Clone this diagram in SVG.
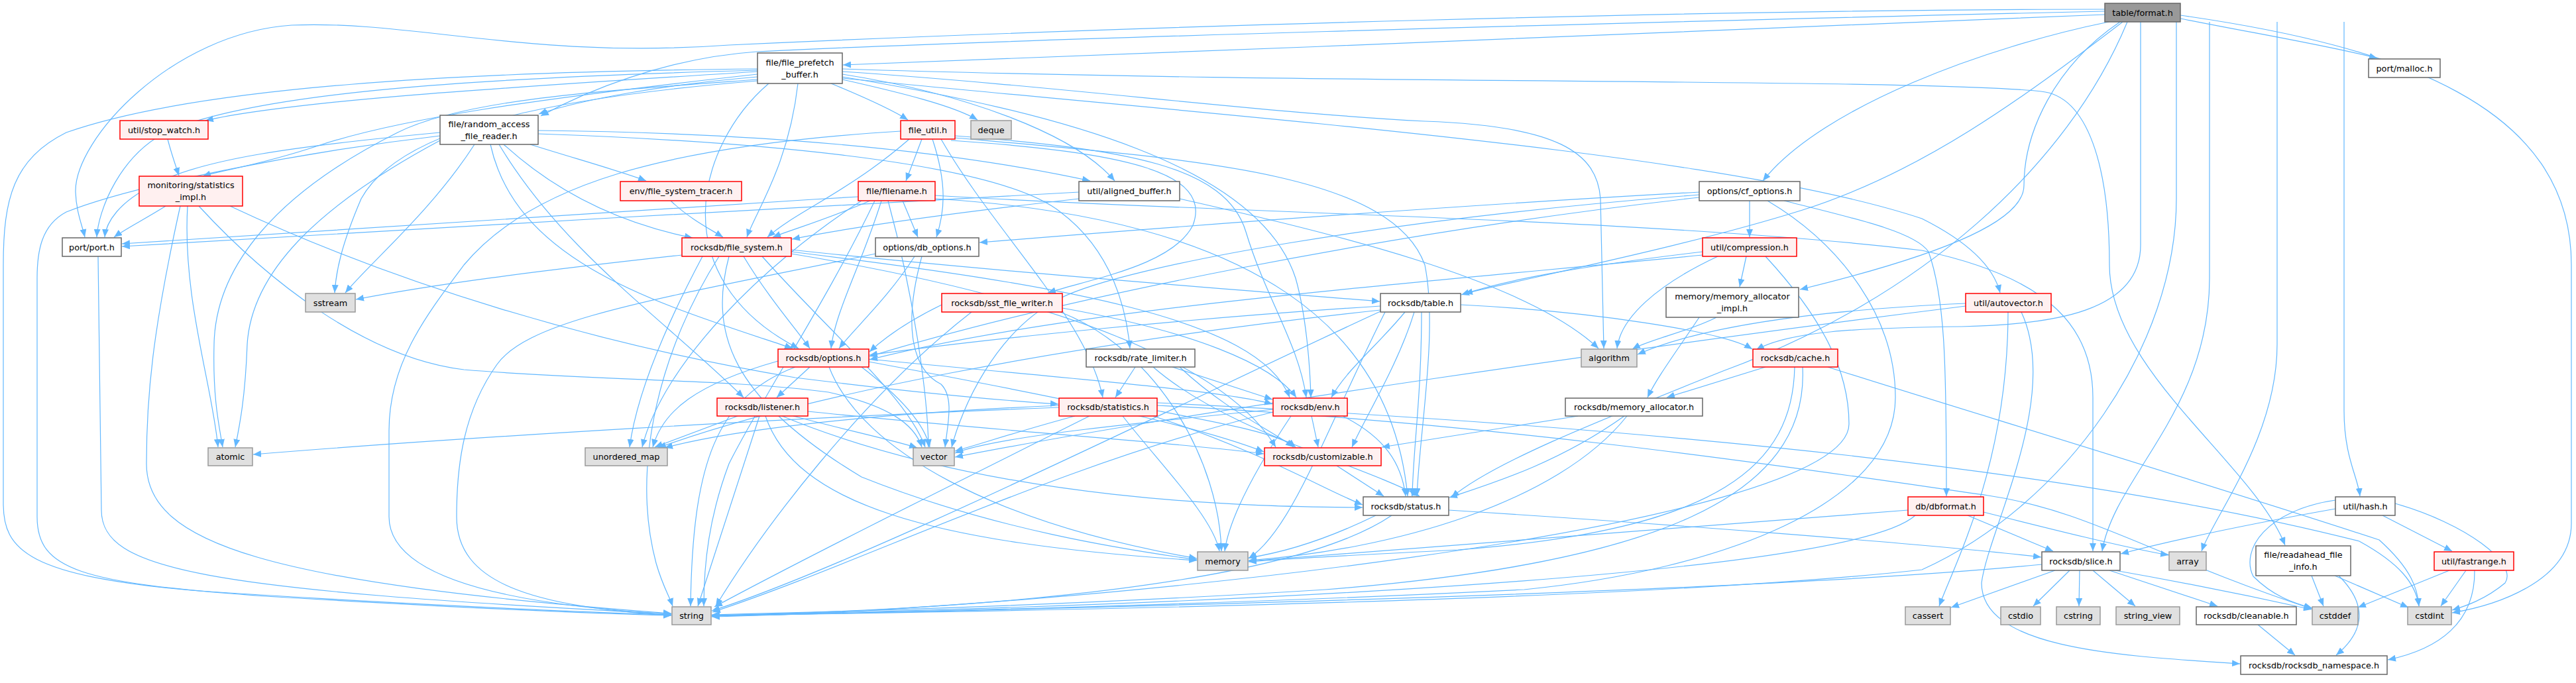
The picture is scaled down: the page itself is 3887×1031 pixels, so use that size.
<svg xmlns="http://www.w3.org/2000/svg" width="3887" height="1031" viewBox="0 0 3887 1031">
<style>
text{font-family:"DejaVu Sans","Liberation Sans",sans-serif;font-size:12.8px;text-anchor:middle;fill:#000}
.w{fill:#fff;stroke:#666;stroke-width:1.5}
.r{fill:#fff0f0;stroke:#f00;stroke-width:1.5}
.g{fill:#e0e0e0;stroke:#999;stroke-width:1.5}
.k{fill:#999;stroke:#666;stroke-width:1.5}
#edges path{fill:none;stroke:#63b8ff;stroke-width:1.2;marker-end:url(#ah)}
</style>
<defs>
<marker id="ah" viewBox="0 0 12 10" refX="12" refY="5" markerWidth="12" markerHeight="10" orient="auto" markerUnits="userSpaceOnUse"><path d="M0,0L12,5L0,10z" fill="#63b8ff"/></marker>
</defs>
<rect width="3887" height="1031" fill="#fff"/>
<g id="edges">
<path d="M3176,22 C2600,45 1900,75 1272,98"/>
<path d="M3176,14 C2600,14 1700,40 1100,68 C800,90 620,30 440,38 C260,50 112,210 114,290 C115,320 124,340 128,358"/>
<path d="M3176,17 C2400,35 1500,60 1142,78 C1000,88 880,140 816,175"/>
<path d="M3182,33 C3000,70 2750,160 2660,273"/>
<path d="M3199,33 C3100,100 3054,200 3054,280 C3054,330 2950,380 2716,437"/>
<path d="M3203,33 C3050,150 2900,260 2720,317 C2550,370 2350,410 2210,443"/>
<path d="M3230,33 L3230,370 C3230,470 3100,490 2960,493 C2800,495 2700,500 2650,528"/>
<path d="M3210,33 C3120,250 2900,450 2600,560 C2400,640 2250,700 2190,751"/>
<path d="M3284,33 L3284,300 C3284,520 3120,760 2900,860 C2500,905 1600,922 1074,929"/>
<path d="M3334,33 L3334,420 C3334,620 3190,720 3172,832"/>
<path d="M3436,33 L3436,520 C3436,660 3340,780 3322,832"/>
<path d="M3537,33 L3537,620 C3537,690 3558,720 3561,749"/>
<path d="M3290,23 C3620,70 3880,160 3880,400 L3880,790 C3880,880 3760,915 3700,925"/>
<path d="M3290,28 C3400,50 3520,70 3587,88"/>
<path d="M1254,126 C1300,145 1345,165 1370,181"/>
<path d="M1271,120 C1360,140 1440,160 1475,181"/>
<path d="M1271,112 C1450,140 1620,200 1682,273"/>
<path d="M1204,126 C1190,250 1140,320 1127,358"/>
<path d="M1160,126 C1050,220 1000,420 1205,526"/>
<path d="M1271,108 C1600,130 1900,170 2150,183 C2350,190 2410,230 2415,300 L2420,526"/>
<path d="M1271,116 C1600,170 1900,250 1955,420 C1972,480 1977,560 1978,600"/>
<path d="M1271,118 C1900,180 2600,230 2900,330 C2980,370 3010,410 3018,442"/>
<path d="M1271,104 C2000,128 2900,118 3080,138 C3150,145 3183,250 3183,400 C3183,560 3400,700 3448,823"/>
<path d="M1143,108 C800,130 450,150 310,182"/>
<path d="M1143,112 C800,150 600,180 480,220 C390,250 330,258 306,266"/>
<path d="M1143,106 C700,118 400,140 260,195 C180,230 148,320 146,358"/>
<path d="M1143,104 C700,108 300,130 100,200 C20,240 5,300 5,400 L5,760 C5,830 40,870 300,892 C600,912 900,925 1013,928"/>
<path d="M1143,120 C900,138 700,150 600,200 C420,290 325,400 323,520 C321,600 330,640 336,675"/>
<path d="M1143,122 C800,150 600,200 545,300 C515,370 507,410 505,442"/>
<path d="M1143,116 C1000,128 880,150 813,172"/>
<path d="M800,218 C870,240 935,258 975,273"/>
<path d="M716,218 C650,320 560,395 521,442"/>
<path d="M664,212 C500,300 380,400 373,520 C370,600 362,640 355,675"/>
<path d="M664,200 C450,220 300,240 230,280 C180,305 160,335 158,358"/>
<path d="M664,205 C450,230 200,280 100,320 C62,340 56,380 56,420 L56,780 C56,860 120,880 400,900 C700,918 900,926 1013,929"/>
<path d="M760,218 C850,300 950,340 1045,359"/>
<path d="M753,218 C850,380 1000,480 1122,600"/>
<path d="M740,218 C780,400 1000,460 1196,526"/>
<path d="M812,202 C1100,212 1500,240 1600,320 C1680,380 1700,470 1705,526"/>
<path d="M812,197 C1100,200 1400,220 1645,273"/>
<path d="M253,210 C258,230 265,250 270,265"/>
<path d="M250,311 C220,330 190,345 172,358"/>
<path d="M283,311 C275,450 320,580 329,675"/>
<path d="M272,311 C230,500 221,600 221,700 C221,820 400,880 1013,926"/>
<path d="M300,311 C400,420 550,540 700,558 C900,575 1100,572 1250,592 C1340,612 1380,640 1391,675"/>
<path d="M347,311 C600,430 900,520 1200,570 C1400,595 1520,605 1597,610"/>
<path d="M148,387 C150,600 153,700 153,770 C153,860 300,890 1013,927"/>
<path d="M1391,210 L1367,273"/>
<path d="M1407,210 C1430,280 1425,320 1413,358"/>
<path d="M1372,210 C1280,290 1200,320 1158,358"/>
<path d="M1435,212 C1700,230 1830,260 1800,340 C1770,400 1650,420 1581,442"/>
<path d="M1441,205 C1700,225 1850,250 1880,350 C1910,450 1960,520 1971,600"/>
<path d="M1441,208 C1800,240 2100,260 2150,400 C2170,500 2142,650 2138,749"/>
<path d="M1420,210 C1500,350 1640,480 1664,600"/>
<path d="M1359,198 C1000,220 800,280 700,400 C640,480 587,550 587,650 L587,780 C587,880 800,915 1013,927"/>
<path d="M1362,303 L1385,358"/>
<path d="M1295,297 C900,320 500,345 184,368"/>
<path d="M1313,303 C1250,330 1200,345 1166,358"/>
<path d="M1330,303 C1300,400 1260,470 1254,526"/>
<path d="M1411,295 C1800,320 2500,330 2900,378 C3100,420 3158,500 3158,600 C3158,720 3158,800 3158,832"/>
<path d="M1411,300 C1900,330 2100,500 2124,749"/>
<path d="M1320,303 C1250,450 1150,600 1100,700 C1070,780 1062,850 1062,915"/>
<path d="M1300,303 C1150,400 1000,550 969,675"/>
<path d="M1340,303 C1380,450 1400,600 1401,675"/>
<path d="M1380,387 C1340,450 1290,495 1266,526"/>
<path d="M1321,383 C1000,450 800,480 750,550 C700,620 689,700 689,780 C689,880 800,915 1013,929"/>
<path d="M1391,387 C1360,500 1380,560 1420,580 C1440,600 1430,640 1426,675"/>
<path d="M2640,303 L2640,358"/>
<path d="M2692,303 C2800,330 2890,350 2910,380 C2935,450 2937,550 2937,749"/>
<path d="M2564,290 C2200,310 1800,340 1478,366"/>
<path d="M2564,298 C2100,350 1600,450 1312,538"/>
<path d="M2564,294 C2100,330 1700,400 1600,450 C1500,500 1450,620 1436,675"/>
<path d="M2667,303 C2780,370 2860,480 2860,600 C2860,760 2600,860 2300,890 C1800,915 1300,925 1074,930"/>
<path d="M2635,387 L2625,433"/>
<path d="M2569,380 C2400,400 2280,420 2205,445"/>
<path d="M2569,385 C2000,440 1600,470 1312,543"/>
<path d="M2592,387 C2500,430 2445,480 2440,526"/>
<path d="M2664,387 C2750,480 2790,560 2790,640 C2790,800 1600,920 1074,931"/>
<path d="M2564,479 C2530,530 2500,570 2486,600"/>
<path d="M2590,479 C2550,500 2490,512 2463,527"/>
<path d="M1029,385 C800,410 650,430 537,452"/>
<path d="M1122,387 C1160,450 1200,495 1222,526"/>
<path d="M1194,380 C1600,430 1900,480 1946,600"/>
<path d="M1194,377 C1500,410 1900,440 2082,455"/>
<path d="M1194,383 C1600,450 1850,550 1925,675"/>
<path d="M1100,387 C1070,500 1100,600 1300,720 C1500,800 1700,830 1806,845"/>
<path d="M1085,387 C1000,520 950,700 990,850 C1000,885 1010,900 1015,915"/>
<path d="M1060,387 C1000,500 960,600 950,675"/>
<path d="M1150,387 C1250,500 1370,600 1396,675"/>
<path d="M1012,303 C1040,330 1070,345 1091,358"/>
<path d="M1628,290 C1200,310 600,350 184,372"/>
<path d="M1628,300 C1450,320 1300,340 1195,361"/>
<path d="M1780,300 C2000,350 2300,420 2412,526"/>
<path d="M1603,465 C1800,500 1920,550 1956,600"/>
<path d="M1421,460 C1380,480 1340,505 1312,531"/>
<path d="M1600,471 C1750,530 1840,700 1843,832"/>
<path d="M1466,471 C1300,600 1150,800 1080,915"/>
<path d="M2204,460 C2400,470 2600,500 2644,527"/>
<path d="M2134,471 C2110,550 2060,630 2040,675"/>
<path d="M2120,471 C2080,520 2030,560 2009,600"/>
<path d="M2145,471 C2145,600 2132,680 2131,749"/>
<path d="M2083,462 C1800,480 1500,510 1312,536"/>
<path d="M2090,471 C2000,650 1950,800 1884,843"/>
<path d="M2083,470 C1800,600 1300,850 1074,922"/>
<path d="M2083,468 C1600,520 1200,600 993,676"/>
<path d="M2966,458 C2700,470 2550,500 2471,535"/>
<path d="M3030,471 C3030,700 2950,850 2926,915"/>
<path d="M2966,462 C2500,520 1800,620 1441,690"/>
<path d="M3050,471 C3110,600 3000,800 2990,880 C2990,980 3200,990 3380,1002"/>
<path d="M1222,554 L1172,600"/>
<path d="M1311,542 C1600,570 1850,590 1920,610"/>
<path d="M1311,546 C1600,600 1800,640 1907,682"/>
<path d="M1251,554 C1300,680 1500,790 1806,843"/>
<path d="M1200,554 C1080,600 1045,700 1042,915"/>
<path d="M1174,545 C1050,580 1000,620 985,675"/>
<path d="M1300,554 C1360,600 1395,640 1403,675"/>
<path d="M1713,554 L1683,600"/>
<path d="M1769,554 L1920,603"/>
<path d="M1740,554 C1850,650 2050,700 2142,749"/>
<path d="M1780,554 C1850,620 1920,650 1952,675"/>
<path d="M1113,628 L988,675"/>
<path d="M1197,628 C1280,650 1350,665 1384,676"/>
<path d="M1146,628 L1053,915"/>
<path d="M1155,628 C1200,760 1400,820 1806,846"/>
<path d="M1219,621 C1500,650 1800,670 1907,685"/>
<path d="M1180,628 C1500,760 1900,765 2056,766"/>
<path d="M1746,620 C1850,640 1930,655 1955,675"/>
<path d="M1740,628 C1900,680 2000,740 2056,762"/>
<path d="M1694,628 C1750,700 1830,780 1840,832"/>
<path d="M1644,628 C1400,750 1200,850 1078,916"/>
<path d="M1622,628 C1540,650 1480,670 1441,681"/>
<path d="M1598,615 C1200,630 700,660 382,686"/>
<path d="M1598,612 C1300,625 1100,650 1003,676"/>
<path d="M1746,612 C2300,640 2800,720 3000,748 C3150,770 3250,840 3488,919"/>
<path d="M1746,608 C2400,640 3100,700 3560,817 C3620,850 3645,880 3650,915"/>
<path d="M1979,628 L1989,675"/>
<path d="M2026,628 C2090,660 2115,700 2121,749"/>
<path d="M1948,628 C1900,700 1855,780 1848,832"/>
<path d="M1921,622 C1600,700 1300,850 1075,924"/>
<path d="M1921,618 C1700,640 1500,660 1441,684"/>
<path d="M2017,703 L2088,749"/>
<path d="M2381,628 L2085,675"/>
<path d="M2451,628 C2350,700 2250,730 2187,751"/>
<path d="M2455,628 C2350,760 2100,830 1884,846"/>
<path d="M2664,554 L2515,600"/>
<path d="M2758,554 C2900,600 3300,720 3590,815 C3640,860 3648,890 3650,915"/>
<path d="M2708,554 C2705,700 2600,800 2200,830 C2000,840 1920,845 1884,848"/>
<path d="M2720,554 C2730,750 2500,850 2000,890 C1600,915 1200,925 1074,928"/>
<path d="M2186,770 C2500,790 2900,820 3080,841"/>
<path d="M2076,778 C1990,820 1930,835 1884,842"/>
<path d="M2100,778 C1950,880 1500,920 1074,929"/>
<path d="M2969,778 L3098,832"/>
<path d="M2993,773 C3100,800 3200,825 3272,838"/>
<path d="M2879,770 C2500,800 2100,830 1884,847"/>
<path d="M2890,778 C2800,860 2000,910 1074,929"/>
<path d="M3524,768 C3400,790 3300,810 3200,836"/>
<path d="M3595,778 L3700,832"/>
<path d="M3524,755 C3420,770 3380,830 3400,870 C3430,900 3460,910 3489,918"/>
<path d="M3614,760 C3720,790 3800,850 3780,880 C3750,905 3720,915 3700,921"/>
<path d="M3101,861 L2944,917"/>
<path d="M3123,861 L3068,915"/>
<path d="M3138,861 L3137,915"/>
<path d="M3158,861 L3222,915"/>
<path d="M3183,861 L3346,915"/>
<path d="M3180,859 C3300,880 3420,905 3488,920"/>
<path d="M3081,852 C2700,890 1800,915 1074,930"/>
<path d="M3488,869 L3506,915"/>
<path d="M3523,869 L3634,917"/>
<path d="M3529,869 C3580,920 3560,960 3525,989"/>
<path d="M3696,861 L3558,917"/>
<path d="M3721,861 L3683,915"/>
<path d="M3734,861 C3735,940 3680,980 3603,996"/>
<path d="M3407,943 L3463,989"/>
</g>
<g id="n_format"><rect class="k" x="3176" y="5" width="114" height="28"/><text x="3233" y="23.5">table/format.h</text></g>
<g id="n_fpb"><rect class="w" x="1143" y="80" width="128" height="46"/><text x="1207" y="98.5">file/file_prefetch</text><text x="1207" y="116.5">_buffer.h</text></g>
<g id="n_malloc"><rect class="w" x="3574" y="89" width="108" height="28"/><text x="3628" y="107.5">port/malloc.h</text></g>
<g id="n_rafr"><rect class="w" x="664" y="174" width="148" height="44"/><text x="738" y="191.5">file/random_access</text><text x="738" y="209.5">_file_reader.h</text></g>
<g id="n_stopwatch"><rect class="r" x="181" y="182" width="133" height="28"/><text x="247.5" y="200.5">util/stop_watch.h</text></g>
<g id="n_fileutil"><rect class="r" x="1359" y="182" width="82" height="28"/><text x="1400" y="200.5">file_util.h</text></g>
<g id="n_deque"><rect class="g" x="1465" y="182" width="61" height="28"/><text x="1495.5" y="200.5">deque</text></g>
<g id="n_cfopt"><rect class="w" x="2564" y="274" width="152" height="29"/><text x="2640" y="293">options/cf_options.h</text></g>
<g id="n_statimpl"><rect class="r" x="210" y="266" width="156" height="45"/><text x="288" y="284">monitoring/statistics</text><text x="288" y="302">_impl.h</text></g>
<g id="n_fstracer"><rect class="r" x="936" y="274" width="183" height="29"/><text x="1027.5" y="293">env/file_system_tracer.h</text></g>
<g id="n_filename"><rect class="r" x="1295" y="274" width="116" height="29"/><text x="1353" y="293">file/filename.h</text></g>
<g id="n_aligned"><rect class="w" x="1628" y="274" width="152" height="29"/><text x="1704" y="293">util/aligned_buffer.h</text></g>
<g id="n_compression"><rect class="r" x="2569" y="359" width="142" height="28"/><text x="2640" y="377.5">util/compression.h</text></g>
<g id="n_port"><rect class="w" x="94" y="359" width="89" height="28"/><text x="138.5" y="377.5">port/port.h</text></g>
<g id="n_fs"><rect class="r" x="1029" y="359" width="165" height="28"/><text x="1111.5" y="377.5">rocksdb/file_system.h</text></g>
<g id="n_dbopt"><rect class="w" x="1321" y="359" width="156" height="28"/><text x="1399" y="377.5">options/db_options.h</text></g>
<g id="n_maimpl"><rect class="w" x="2514" y="434" width="200" height="45"/><text x="2614" y="452">memory/memory_allocator</text><text x="2614" y="470">_impl.h</text></g>
<g id="n_sstw"><rect class="r" x="1421" y="443" width="182" height="28"/><text x="1512" y="461.5">rocksdb/sst_file_writer.h</text></g>
<g id="n_table"><rect class="w" x="2083" y="443" width="121" height="28"/><text x="2143.5" y="461.5">rocksdb/table.h</text></g>
<g id="n_autovec"><rect class="r" x="2966" y="443" width="129" height="28"/><text x="3030.5" y="461.5">util/autovector.h</text></g>
<g id="n_sstream"><rect class="g" x="461" y="443" width="75" height="28"/><text x="498.5" y="461.5">sstream</text></g>
<g id="n_options"><rect class="r" x="1174" y="527" width="137" height="27"/><text x="1242.5" y="545">rocksdb/options.h</text></g>
<g id="n_ratelim"><rect class="w" x="1639" y="527" width="164" height="27"/><text x="1721" y="545">rocksdb/rate_limiter.h</text></g>
<g id="n_algorithm"><rect class="g" x="2386" y="527" width="84" height="27"/><text x="2428" y="545">algorithm</text></g>
<g id="n_cache"><rect class="r" x="2645" y="527" width="128" height="27"/><text x="2709" y="545">rocksdb/cache.h</text></g>
<g id="n_listener"><rect class="r" x="1082" y="601" width="137" height="27"/><text x="1150.5" y="619">rocksdb/listener.h</text></g>
<g id="n_statistics"><rect class="r" x="1598" y="601" width="148" height="27"/><text x="1672" y="619">rocksdb/statistics.h</text></g>
<g id="n_env"><rect class="r" x="1921" y="601" width="112" height="27"/><text x="1977" y="619">rocksdb/env.h</text></g>
<g id="n_memalloc"><rect class="w" x="2362" y="601" width="207" height="27"/><text x="2465.5" y="619">rocksdb/memory_allocator.h</text></g>
<g id="n_atomic"><rect class="g" x="314" y="676" width="67" height="27"/><text x="347.5" y="694">atomic</text></g>
<g id="n_umap"><rect class="g" x="883" y="676" width="124" height="27"/><text x="945" y="694">unordered_map</text></g>
<g id="n_vector"><rect class="g" x="1378" y="676" width="62" height="27"/><text x="1409" y="694">vector</text></g>
<g id="n_custom"><rect class="r" x="1908" y="676" width="176" height="27"/><text x="1996" y="694">rocksdb/customizable.h</text></g>
<g id="n_status"><rect class="w" x="2057" y="750" width="129" height="28"/><text x="2121.5" y="768.5">rocksdb/status.h</text></g>
<g id="n_dbformat"><rect class="r" x="2879" y="750" width="114" height="28"/><text x="2936" y="768.5">db/dbformat.h</text></g>
<g id="n_hash"><rect class="w" x="3524" y="750" width="90" height="28"/><text x="3569" y="768.5">util/hash.h</text></g>
<g id="n_memory"><rect class="g" x="1807" y="833" width="76" height="28"/><text x="1845" y="851.5">memory</text></g>
<g id="n_slice"><rect class="w" x="3081" y="833" width="118" height="28"/><text x="3140" y="851.5">rocksdb/slice.h</text></g>
<g id="n_array"><rect class="g" x="3273" y="833" width="56" height="28"/><text x="3301" y="851.5">array</text></g>
<g id="n_rafi"><rect class="w" x="3404" y="824" width="143" height="45"/><text x="3475.5" y="842">file/readahead_file</text><text x="3475.5" y="860">_info.h</text></g>
<g id="n_fastrange"><rect class="r" x="3673" y="833" width="120" height="28"/><text x="3733" y="851.5">util/fastrange.h</text></g>
<g id="n_string"><rect class="g" x="1014" y="916" width="59" height="27"/><text x="1043.5" y="934">string</text></g>
<g id="n_cassert"><rect class="g" x="2875" y="916" width="68" height="27"/><text x="2909" y="934">cassert</text></g>
<g id="n_cstdio"><rect class="g" x="3019" y="916" width="60" height="27"/><text x="3049" y="934">cstdio</text></g>
<g id="n_cstring"><rect class="g" x="3103" y="916" width="66" height="27"/><text x="3136" y="934">cstring</text></g>
<g id="n_string_view"><rect class="g" x="3193" y="916" width="96" height="27"/><text x="3241" y="934">string_view</text></g>
<g id="n_cleanable"><rect class="w" x="3314" y="916" width="151" height="27"/><text x="3389.5" y="934">rocksdb/cleanable.h</text></g>
<g id="n_cstddef"><rect class="g" x="3489" y="916" width="69" height="27"/><text x="3523.5" y="934">cstddef</text></g>
<g id="n_cstdint"><rect class="g" x="3633" y="916" width="66" height="27"/><text x="3666" y="934">cstdint</text></g>
<g id="n_ns"><rect class="w" x="3381" y="990" width="221" height="28"/><text x="3491.5" y="1008.5">rocksdb/rocksdb_namespace.h</text></g>
</svg>
